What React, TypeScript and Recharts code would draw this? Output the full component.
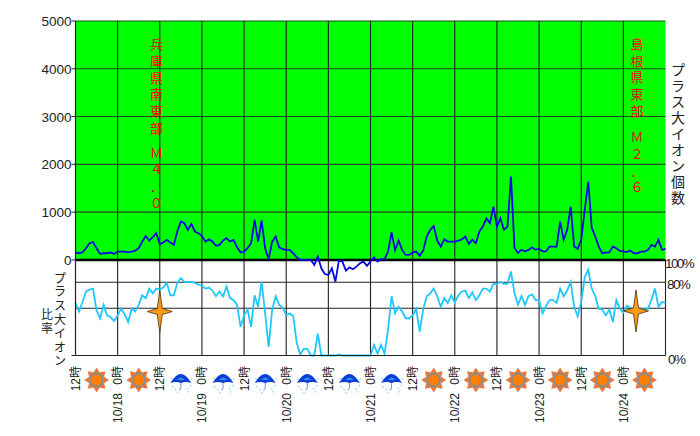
import React from 'react';
import { LineChart, Line, XAxis, YAxis, ReferenceLine, ReferenceArea, ReferenceDot } from 'recharts';

// hourly readings, starting 10/17 12:00
const plusCounts = [
  155, 140, 160, 245, 350, 375, 245, 125, 140, 140, 155, 125,
  175, 175, 175, 160, 175, 195, 245, 385, 500, 405, 475, 560,
  330, 365, 420, 365, 315, 595, 805, 770, 630, 755, 595, 560,
  500, 385, 430, 385, 295, 315, 405, 455, 385, 420, 265, 155,
  175, 245, 350, 840, 385, 825, 245, 15, 385, 490, 265, 225,
  210, 210, 140, 55, 0, 0, 0, 0, -105, 70, -175, -295,
  -315, -175, -455, -15, -35, -225, -155, -195, -140, -70, -35, -125,
  -35, 55, -35, 15, 15, 175, 575, 210, 405, 210, 105, 105,
  155, 175, 85, 195, 490, 630, 710, 405, 280, 430, 385, 385,
  385, 405, 430, 490, 335, 420, 350, 595, 700, 870, 765, 1115,
  700, 870, 630, 700, 1745, 250, 145, 210, 180, 210, 265, 215,
  230, 180, 180, 280, 280, 280, 800, 420, 630, 1115, 280, 230,
  420, 1045, 1640, 665, 490, 280, 140, 155, 160, 280, 245, 190,
  180, 165, 195, 140, 140, 175, 175, 210, 315, 280, 420, 210,
  230,
];
const plusRatios = [
  55, 46, 56, 67, 69, 70, 47, 39, 53, 42, 40, 36,
  42, 49, 43, 35, 49, 46, 53, 63, 60, 70, 65, 70,
  69, 71, 76, 63, 63, 76, 81, 77, 77, 77, 76, 74,
  73, 70, 71, 68, 62, 67, 62, 72, 60, 58, 53, 30,
  42, 48, 30, 63, 51, 77, 44, 9, 48, 62, 53, 50,
  42, 44, 41, 13, 1, 7, 7, 0, 0, 23, 0, 0,
  0, 0, 0, 1, 0, 0, 0, 0, 0, 0, 0, 0,
  0, 11, 2, 11, 2, 27, 62, 44, 51, 46, 39, 39,
  42, 49, 25, 48, 62, 65, 70, 62, 51, 60, 55, 63,
  55, 63, 67, 68, 60, 66, 58, 63, 70, 70, 67, 75,
  75, 77, 75, 75, 88, 65, 53, 62, 53, 62, 64, 58,
  58, 44, 52, 58, 58, 55, 70, 62, 68, 77, 51, 41,
  56, 82, 90, 70, 62, 49, 48, 42, 48, 35, 58, 49,
  45, 52, 50, 49, 49, 49, 48, 49, 58, 70, 51, 56,
  55,
];

const data = plusCounts.map((v, i) => ({ hour: i, count: v, ratio: plusRatios[i] }));

const xTicks = [
  0, 6, 12, 18, 24, 30, 36, 42, 48, 54, 60, 66, 72, 78, 84, 90, 96, 102, 108, 114, 120, 126, 132, 138, 144, 150, 156, 162,
];
const verticalLines = [12, 24, 36, 48, 60, 72, 84, 96, 108, 120, 132, 144, 156];
const dateLabels: Record<number, string> = { 12: '10/18', 36: '10/19', 60: '10/20', 84: '10/21', 108: '10/22', 132: '10/23', 156: '10/24' };
const weather: Record<number, string> = {
  6: 'sun', 18: 'sun', 30: 'rain', 42: 'rain', 54: 'rain', 66: 'rain', 78: 'rain', 90: 'rain',
  102: 'sun', 114: 'sun', 126: 'sun', 138: 'sun', 150: 'sun', 162: 'sun',
};
const countTicks = [-2000, 0, 1000, 2000, 3000, 4000, 5000];
const ratioTicks = [0, 80, 100];
const ratioLines = [49.4, 76.6];
const quakes = [
  { hour: 24, ratio: 46 },
  { hour: 159.6, ratio: 46.6 },
];

const SANS = '"Liberation Sans", "Noto Sans CJK JP", sans-serif';
const INK = '#222';

const SunIcon = ({ x, y }: { x: number; y: number }) => {
  const spikes = [0, 45, 90, 135, 180, 225, 270, 315];
  return (
    <g transform={`translate(${x},${y})`}>
      {spikes.map((a) => (
        <path key={a} d="M-3.5,-7 L0,-12.5 L3.5,-7 Z" fill="#e8793a" transform={`rotate(${a})`} />
      ))}
      <circle r={7.5} fill="#8a8a8a" />
      <circle r={5.5} fill="#ff8000" />
    </g>
  );
};

const RainIcon = ({ x, y }: { x: number; y: number }) => {
  const drops = [[-9, 5], [-6, 8], [6, 7], [9, 4], [-4, 11], [7, 10], [-10, -3], [10, -3]];
  return (
    <g transform={`translate(${x},${y})`}>
      {drops.map(([dx, dy], i) => (
        <rect key={i} x={dx} y={dy} width={1.5} height={1.5} fill="#9cd8ff" />
      ))}
      <path d="M0,-1 L0,7 Q0,9 -2,9" fill="none" stroke="#7f8fe0" strokeWidth={1} />
      <path d="M-10.5,2 Q-5,-7 0,-7 Q5,-7 10.5,2 Q5,0 0,2 Q-5,0 -10.5,2 Z" fill="#0a3fd8" />
      <path d="M-4,-1 Q0,-6 4,-1 Z" fill="#3f8cf0" />
    </g>
  );
};

const TimeTick = ({ x, payload }: any) => {
  const h = payload.value;
  if (weather[h]) {
    return weather[h] === 'sun' ? <SunIcon x={x} y={380} /> : <RainIcon x={x} y={381} />;
  }
  const label = h % 24 === 0 ? '12時' : '0時';
  return (
    <g fontFamily={SANS} fontSize={12} fill={INK}>
      <text transform={`translate(${x + 4.5},366) rotate(-90)`} textAnchor="end">{label}</text>
      {dateLabels[h] && (
        <text transform={`translate(${x + 4.5},393) rotate(-90)`} textAnchor="end">{dateLabels[h]}</text>
      )}
    </g>
  );
};

const CountTick = ({ x, y, payload }: any) =>
  payload.value < 0 ? null : (
    <text x={x} y={y + 5} textAnchor="end" fontFamily={SANS} fontSize={13.5} fill={INK}>
      {payload.value}
    </text>
  );

const RatioTick = ({ y, payload }: any) => {
  const left = payload.value === 100 ? 665 : payload.value === 80 ? 667 : 668;
  const dy = payload.value === 80 ? 9.5 : 8.5;
  return (
    <text x={left} y={y + dy} fontFamily={SANS} fontSize={13.5} letterSpacing={-1.6} fill={INK}>
      {payload.value}%
    </text>
  );
};

const QuakeStar = ({ cx, cy }: any) => (
  <path
    transform={`translate(${cx},${cy})`}
    d="M0,-21 L2.5,-3 L12.5,0 L2.5,3 L0,21 L-2.5,3 L-12.5,0 L-2.5,-3 Z"
    fill="#ff9a14"
    stroke="#4a3208"
    strokeWidth={0.8}
  />
);

// one glyph per row, y is the centre of the first glyph and step the distance between centres
const Column = ({ x, y, text, color = INK, size, step }: { x: number; y: number; text: string; color?: string; size: number; step: number }) => (
  <g fontFamily={SANS} fontSize={size} fill={color} textAnchor="middle">
    {Array.from(text).map((c, i) => (
      <text key={i} x={x} y={y + i * step + size * 0.38}>{c}</text>
    ))}
  </g>
);

const App = () => (
  <div style={{ position: 'absolute', left: 0, top: 0, width: 700, height: 436, background: '#fff' }}>
    <LineChart width={700} height={436} data={data} margin={{ top: 21, right: 0, bottom: 0, left: 0 }}>
      <XAxis
        dataKey="hour"
        type="number"
        domain={[0, 168]}
        ticks={xTicks}
        interval={0}
        height={80.5}
        tick={<TimeTick />}
        tickLine={false}
        axisLine={{ stroke: '#222', strokeWidth: 1.2 }}
      />
      <YAxis
        yAxisId="count"
        width={75.5}
        domain={[-2000, 5000]}
        ticks={countTicks}
        interval={0}
        tickSize={4}
        tickMargin={0}
        tick={<CountTick />}
        tickLine={{ stroke: '#222' }}
        axisLine={{ stroke: '#222', strokeWidth: 1.2 }}
      />
      <YAxis
        yAxisId="ratio"
        orientation="right"
        width={34.5}
        domain={[0, 350]}
        ticks={ratioTicks}
        interval={0}
        tick={<RatioTick />}
        tickLine={false}
        axisLine={false}
      />
      <ReferenceArea yAxisId="count" x1={0} x2={168} y1={0} y2={5000} fill="#00ff00" fillOpacity={1} stroke="none" />
      {countTicks.slice(2).map((v) => (
        <ReferenceLine key={v} yAxisId="count" y={v} stroke="#1c4a1c" strokeWidth={1.1} />
      ))}
      {ratioLines.map((v) => (
        <ReferenceLine key={v} yAxisId="ratio" y={v} stroke="#222" strokeWidth={1.1} />
      ))}
      {verticalLines.map((h) => (
        <ReferenceLine key={h} yAxisId="count" x={h} stroke="#222" strokeWidth={1.1} />
      ))}
      <ReferenceLine yAxisId="ratio" segment={[{ x: 168, y: 0 }, { x: 168, y: 100 }]} stroke="#222" strokeWidth={1.1} />
      <ReferenceLine yAxisId="count" y={0} stroke="#000" strokeWidth={2.5} />
      <Line yAxisId="ratio" dataKey="ratio" stroke="#1fc8ff" strokeWidth={1.8} dot={false} isAnimationActive={false} />
      <Line yAxisId="count" dataKey="count" stroke="#0808e0" strokeWidth={1.8} dot={false} isAnimationActive={false} />
      {quakes.map((q) => (
        <ReferenceDot key={q.hour} yAxisId="ratio" x={q.hour} y={q.ratio} shape={<QuakeStar />} ifOverflow="visible" />
      ))}
      {/* dot shapes sit above the green band, so the labels go in here */}
      <ReferenceDot
        yAxisId="count"
        x={24}
        y={3000}
        ifOverflow="visible"
        shape={() => (
          <g>
            <Column x={156.5} y={44} text="兵庫県南東部" color="#ff0000" size={13} step={16.8} />
            <Column x={156.5} y={152.7} text="Ｍ４．０" color="#ff0000" size={13} step={16.8} />
            <Column x={637} y={44} text="島根県東部" color="#ff0000" size={13} step={16.7} />
            <Column x={637} y={137.3} text="Ｍ２．６" color="#ff0000" size={13} step={16.7} />
            <Column x={678} y={70} text="プラス大イオン個数" size={14} step={16} />
            <Column x={60} y={278} text="プラス大イオン" size={12} step={13.8} />
            <Column x={47} y={314} text="比率" size={12} step={14} />
          </g>
        )}
      />
    </LineChart>
  </div>
);

export default App;
